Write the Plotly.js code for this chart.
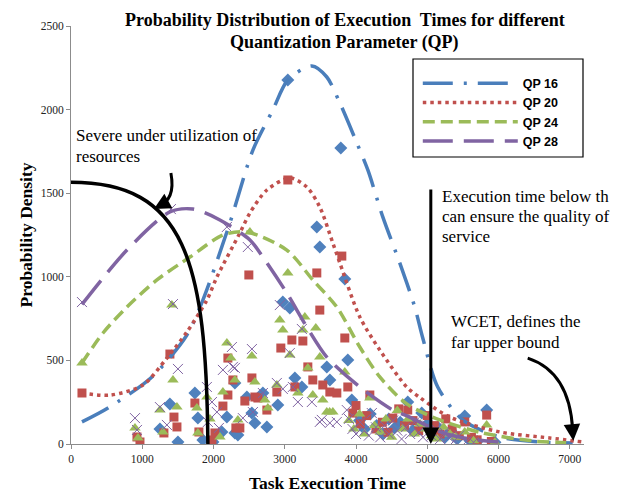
<!DOCTYPE html>
<html>
<head>
<meta charset="utf-8">
<script src="https://cdn.plot.ly/plotly-3.0.1.min.js"></script>
<style>html,body{margin:0;padding:0;background:#fff;}#chart{width:623px;height:493px;}</style>
</head>
<body>
<div id="chart"></div>
<script>
// ---- Observed execution-time samples (task execution time, probability density) ----
var qp16_x = [1248, 1388, 1501, 1739, 1781, 1851, 1992, 2118, 2188, 2300, 2300, 2342, 2468, 2539, 2581, 2693, 2749, 2903, 2973, 3043, 3071, 3142, 3240, 3450, 3492, 3590, 3633, 3787, 3843, 3885, 3941,
  4050, 4120, 4200, 4290, 4380, 4460, 4540, 4620, 4726, 4800, 4923, 5000, 5080, 5150, 5250, 5330, 5420, 5526, 5600, 5700, 5834, 5950];
var qp16_y = [90, 239, 12, 305, 155, 24, 12, 72, 161, 66, 365, 54, 281, 185, 126, 305, 102, 233, 849, 2177, 813, 395, 341, 1298, 1178, 461, 383, 1770, 987, 502, 263,
  140, 90, 180, 110, 60, 150, 95, 130, 251, 80, 185, 120, 60, 100, 40, 80, 30, 167, 20, 15, 203, 10];

var qp20_x = [154, 926, 968, 1304, 1388, 1445, 1487, 1739, 1795, 1978, 2020, 2132, 2202, 2202, 2272, 2314, 2370, 2440, 2496, 2539, 2581, 2623, 2749, 2889, 2945, 3043, 3100, 3142, 3254, 3324, 3394, 3450, 3492, 3534, 3633, 3731, 3801, 3843, 3885, 3955,
  4000, 4060, 4150, 4194, 4280, 4370, 4450, 4516, 4600, 4680, 4726, 4800, 4880, 5000, 5100, 5180, 5260, 5350, 5450, 5526, 5620, 5700, 5834, 5900];
var qp20_y = [305, 42, 12, 66, 538, 161, 102, 245, 72, 24, 66, 227, 293, 514, 383, 96, 96, 257, 1011, 395, 281, 275, 203, 311, 574, 1579, 622, 341, 616, 461, 383, 1023, 801, 353, 311, 305, 1124, 634, 341, 185,
  230, 120, 170, 293, 90, 130, 70, 155, 210, 110, 203, 140, 80, 170, 110, 60, 150, 90, 50, 132, 40, 25, 173, 15];

var qp24_x = [154, 898, 940, 1248, 1290, 1416, 1431, 1487, 1767, 1781, 1907, 1950, 2090, 2132, 2188, 2244, 2300, 2342, 2511, 2539, 2581, 2721, 2763, 2889, 2931, 2973, 3043, 3071, 3184, 3254, 3282, 3324, 3394, 3436, 3492, 3534, 3590, 3630, 3675, 3843,
  3900, 3970, 4050, 4120, 4194, 4260, 4340, 4420, 4500, 4580, 4650, 4730, 4820, 4900, 4980, 5060, 5140, 5230, 5320, 5400, 5526, 5650, 5834, 5950];
var qp24_y = [484, 96, 36, 203, 72, 831, 383, 221, 215, 66, 281, 150, 42, 311, 604, 514, 383, 144, 1268, 526, 371, 263, 215, 353, 742, 682, 1023, 532, 305, 682, 760, 455, 293, 694, 520, 263, 191, 191, 191, 431,
  140, 90, 180, 60, 275, 110, 70, 150, 40, 200, 90, 150, 60, 120, 90, 50, 30, 100, 60, 40, 72, 20, 114, 10];

var qp28_x = [154, 898, 926, 1248, 1346, 1402, 1431, 1501, 1907, 1921, 1978, 2048, 2076, 2132, 2188, 2258, 2272, 2300, 2412, 2482, 2539, 2553, 2693, 2889, 2931, 2973, 3071, 3114, 3184, 3240, 3380, 3492, 3520, 3633, 3731, 3871,
  3900, 3950, 4000, 4060, 4120, 4180, 4222, 4280, 4340, 4400, 4460, 4520, 4580, 4640, 4700, 4760, 4820, 4880, 4940, 5000, 5060, 5120, 5180, 5240, 5300, 5380, 5450, 5550, 5650];
var qp28_y = [849, 155, 84, 221, 114, 1405, 837, 449, 341, 132, 251, 191, 96, 443, 1298, 580, 461, 455, 155, 1178, 568, 191, 305, 365, 831, 329, 544, 341, 251, 688, 251, 132, 144, 126, 132, 203,
  150, 90, 60, 130, 80, 50, 185, 100, 40, 110, 60, 140, 80, 30, 100, 60, 130, 70, 40, 110, 50, 90, 30, 70, 40, 20, 50, 15, 10];

// ---- Fitted distribution curves ----
var fit16_x = [154, 519, 1136, 1627, 1851, 2230, 2553, 2833, 3043, 3380, 3590, 3773, 3983, 4166, 4376, 4614, 4825, 4937, 5147, 5498, 6017, 6578, 7041];
var fit16_y = [132, 215, 401, 652, 861, 1322, 1758, 1998, 2177, 2261, 2195, 2040, 1830, 1639, 1358, 1083, 819, 634, 341, 144, 42, 12, 6];
var fit20_x = [154, 547, 1010, 1346, 1627, 1907, 2048, 2370, 2511, 2749, 3071, 3310, 3492, 3675, 3773, 4053, 4334, 4712, 4895, 5316, 6017, 6718, 7181];
var fit20_y = [305, 292, 353, 514, 670, 861, 999, 1262, 1382, 1519, 1591, 1537, 1417, 1202, 1083, 760, 562, 341, 278, 161, 72, 36, 12];
var fit24_x = [154, 449, 785, 1206, 1669, 2132, 2468, 3029, 3394, 3731, 4053, 4334, 4712, 5175, 5778, 6480, 6950];
var fit24_y = [484, 664, 819, 981, 1118, 1250, 1268, 1160, 981, 819, 580, 401, 240, 144, 66, 18, 8];
var fit28_x = [154, 785, 1388, 1711, 2090, 2511, 2693, 3029, 3310, 3590, 4053, 4516, 4754, 5200, 5600, 6000];
var fit28_y = [835, 1160, 1388, 1405, 1340, 1220, 1118, 903, 700, 520, 341, 203, 161, 70, 30, 12];

var seriesNames = ['QP 16', 'QP 20', 'QP 24', 'QP 28'];
var xTickVals = [0, 1000, 2000, 3000, 4000, 5000, 6000, 7000];
var yTickVals = [0, 500, 1000, 1500, 2000, 2500];
var titleLines = ['Probability Distribution of Execution  Times for different', 'Quantization Parameter (QP)'];

var cBlue = '#4F81BD', cRed = '#C0504D', cGreen = '#9BBB59', cPurple = '#8064A2';

var traces = [
  {x: qp16_x, y: qp16_y, type: 'scatter', mode: 'markers', showlegend: false, hoverinfo: 'skip',
   marker: {symbol: 'diamond', size: 10, color: cBlue}},
  {x: qp20_x, y: qp20_y, type: 'scatter', mode: 'markers', showlegend: false, hoverinfo: 'skip',
   marker: {symbol: 'square', size: 9, color: cRed}},
  {x: qp24_x, y: qp24_y, type: 'scatter', mode: 'markers', showlegend: false, hoverinfo: 'skip',
   marker: {symbol: 'triangle-up', size: 10, color: cGreen}},
  {x: qp28_x, y: qp28_y, type: 'scatter', mode: 'markers', showlegend: false, hoverinfo: 'skip',
   marker: {symbol: 'x-thin-open', size: 10, color: cPurple, line: {color: cPurple, width: 1}}},
  {x: fit16_x, y: fit16_y, type: 'scatter', mode: 'lines', name: seriesNames[0],
   line: {shape: 'spline', smoothing: 0.8, color: '#4A7EBB', width: 3.5, dash: '30px,11px,3px,11px'}},
  {x: fit20_x, y: fit20_y, type: 'scatter', mode: 'lines', name: seriesNames[1],
   line: {shape: 'spline', smoothing: 0.8, color: cRed, width: 3.5, dash: '3.5px,4px'}},
  {x: fit24_x, y: fit24_y, type: 'scatter', mode: 'lines', name: seriesNames[2],
   line: {shape: 'spline', smoothing: 0.8, color: cGreen, width: 3.5, dash: '12px,6px'}},
  {x: fit28_x, y: fit28_y, type: 'scatter', mode: 'lines', name: seriesNames[3],
   line: {shape: 'spline', smoothing: 0.8, color: cPurple, width: 3.5, dash: '30px,11px'}}
];

var serif = 'Liberation Serif, Times New Roman, serif';
var textFont = {family: serif, size: 17, color: '#000'};

function lineNote(txt, xp, yp) {
  return {text: txt, x: xp, y: yp, xref: 'paper', yref: 'paper', xanchor: 'left', yanchor: 'middle',
          showarrow: false, font: textFont};
}
function titleNote(txt, yp) {
  return {text: '<b>' + txt + '</b>', x: 0.534, y: yp, xref: 'paper', yref: 'paper', xanchor: 'center',
          yanchor: 'middle', showarrow: false, font: {family: serif, size: 18, color: '#000'}};
}

var layout = {
  width: 623, height: 493,
  margin: {l: 71, r: 39, t: 26, b: 49},
  paper_bgcolor: '#fff', plot_bgcolor: '#fff',
  showlegend: true,
  xaxis: {
    range: [0, 7200], tickvals: xTickVals, ticktext: xTickVals.map(String),
    showgrid: false, zeroline: false, showline: true, linecolor: '#8c8c8c', linewidth: 1,
    ticks: 'outside', ticklen: 4, tickcolor: '#8c8c8c',
    tickfont: {family: serif, size: 11.5, color: '#222'},
    title: {text: '<b>Task Execution Time</b>', font: {family: serif, size: 17.5, color: '#000'}, standoff: 17}
  },
  yaxis: {
    range: [0, 2500], tickvals: yTickVals, ticktext: yTickVals.map(String),
    showgrid: false, zeroline: false, showline: true, linecolor: '#8c8c8c', linewidth: 1,
    ticks: 'outside', ticklen: 4, tickcolor: '#8c8c8c',
    tickfont: {family: serif, size: 11.5, color: '#222'},
    title: {text: '<b>Probability Density</b>', font: {family: serif, size: 17.5, color: '#000'}, standoff: 3}
  },
  legend: {
    x: 0.676, y: 0.898, xanchor: 'left', yanchor: 'top',
    bgcolor: 'rgba(0,0,0,0)', borderwidth: 0,
    itemwidth: 95, tracegroupgap: 0,
    font: {family: 'Liberation Sans, Arial, sans-serif', size: 12.5, color: '#000', weight: 'bold'}
  },
  shapes: [
    // legend frame
    {type: 'rect', xref: 'paper', yref: 'paper', x0: (413 - 71) / 513, x1: (583 - 71) / 513,
     y0: (444 - 157) / 418, y1: (444 - 59) / 418, line: {color: '#000', width: 1.2}, fillcolor: 'rgba(0,0,0,0)'},
    // under-utilisation boundary curve
    {type: 'path', xref: 'x', yref: 'y', path: 'M 0,1565 C 1600,1565 1900,1100 1921,0',
     line: {color: '#000', width: 3.5}},
    // curved arrow body (severe under utilization)
    {type: 'path', xref: 'x', yref: 'y', path: 'M 1402,1621 Q 1473,1459 1220,1423',
     line: {color: '#000', width: 3}},
    // curved arrow body (WCET)
    {type: 'path', xref: 'x', yref: 'y', path: 'M 6410,514 Q 6999,431 7041,84',
     line: {color: '#000', width: 3}}
  ],
  annotations: [
    titleNote(titleLines[0], 1.014),
    titleNote(titleLines[1], 0.961),
    lineNote('Severe under utilization of', 0.006, 0.739),
    lineNote('resources', 0.006, 0.687),
    lineNote('Execution time below th', 0.719, 0.591),
    lineNote('can ensure the quality of', 0.719, 0.545),
    lineNote('service', 0.719, 0.497),
    lineNote('WCET, defines the', 0.737, 0.292),
    lineNote('far upper bound', 0.737, 0.242),
    // vertical arrow at execution-time threshold
    {x: 5050, y: 0, xref: 'x', yref: 'y', text: '', showarrow: true, arrowhead: 2, arrowsize: 1.1,
     arrowwidth: 3, arrowcolor: '#000', ax: 0, ay: -256, standoff: 0},
    // arrowhead for curved "severe" arrow
    {x: 1164, y: 1405, xref: 'x', yref: 'y', text: '', showarrow: true, arrowhead: 2, arrowsize: 1.1,
     arrowwidth: 3, arrowcolor: '#000', ax: 9, ay: -5, standoff: 0},
    // arrowhead for curved WCET arrow
    {x: 7050, y: 20, xref: 'x', yref: 'y', text: '', showarrow: true, arrowhead: 2, arrowsize: 1.1,
     arrowwidth: 3, arrowcolor: '#000', ax: -1, ay: -12, standoff: 0}
  ]
};

Plotly.newPlot('chart', traces, layout, {displayModeBar: false, staticPlot: true});
</script>
</body>
</html>
